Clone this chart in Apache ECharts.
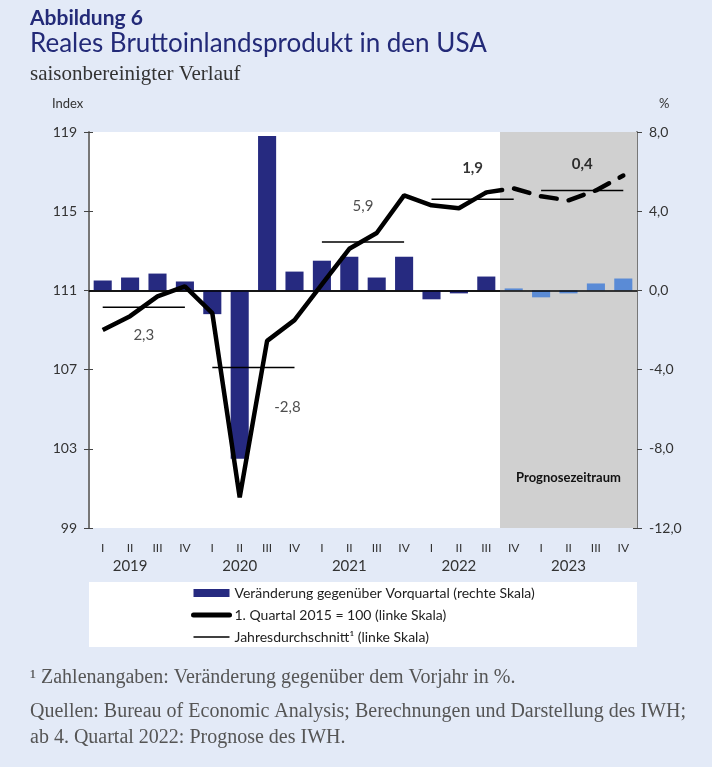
<!DOCTYPE html>
<html>
<head>
<meta charset="utf-8">
<script src="https://cdn.jsdelivr.net/npm/echarts@6/dist/echarts.min.js"></script>
<style>
    html, body { margin: 0; padding: 0; background: #e3eaf7; }
    #chart { width: 712px; height: 767px; }
</style>
</head>
<body>
<div id="chart"></div>
<script>
(function () {
    // Daten
    var years = ['2019', '2020', '2021', '2022', '2023'];
    var quarters = ['I', 'II', 'III', 'IV'];
    // 1. Quartal 2015 = 100
    var gdpIndex = [109.0, 109.7, 110.7, 111.2, 109.85, 100.55, 108.45, 109.5, 111.3, 113.1,
        113.9, 115.8, 115.3, 115.15, 115.95, 116.15, 115.75, 115.55, 116.05, 116.8];
    // Veränderung gegenüber Vorquartal in %
    var qoqChange = [0.5, 0.65, 0.85, 0.45, -1.2, -8.5, 7.8, 0.95, 1.5, 1.7,
        0.65, 1.7, -0.45, -0.15, 0.7, 0.1, -0.35, -0.15, 0.35, 0.6];
    var annualAvg = [110.15, 107.1, 113.45, 115.6, 116.05];
    var annualGrowth = [2.3, -2.8, 5.9, 1.9, 0.4];
    var forecastFrom = 15; // ab 4. Quartal 2022

    var barName = 'Veränderung gegenüber Vorquartal (rechte Skala)';
    var lineName = '1. Quartal 2015 = 100 (linke Skala)';
    var avgName = 'Jahresdurchschnitt¹ (linke Skala)';

    var navy = '#262a80';
    var lightBlue = '#5a8bd6';
    var sans = 'Lato';
    var serif = 'Liberation Serif';

    var categories = [];
    years.forEach(function (y) {
        quarters.forEach(function (q) {
            categories.push(y + ' ' + q);
        });
    });

    function deComma(v, digits) {
        return v.toFixed(digits).replace('.', ',');
    }

    // Position der Jahreswerte relativ zur Durchschnittslinie
    var growthLabelOffset = [[0, 28], [34, 40], [0, -36], [0, -31], [0, -26]];

    var chart = echarts.init(document.getElementById('chart'));

    var avgSeries = annualAvg.map(function (avg, k) {
        return {
            name: avgName,
            type: 'line',
            symbol: 'none',
            silent: true,
            z: 3,
            itemStyle: { color: '#000' },
            lineStyle: { color: '#000', width: 1.5 },
            data: categories.map(function (c, i) {
                return Math.floor(i / 4) === k ? avg : '-';
            })
        };
    });

    var noSymbol = { color: 'transparent', borderColor: 'transparent', borderWidth: 0 };

    var option = {
        backgroundColor: '#e3eaf7',
        animation: false,

        title: [
            {
                text: 'Abbildung 6', left: 30, top: 8, padding: 0,
                textStyle: { fontFamily: sans, fontSize: 21, fontWeight: 'bold', color: '#232a78' }
            },
            {
                text: 'Reales Bruttoinlandsprodukt in den USA', left: 30, top: 31, padding: 0,
                textStyle: { fontFamily: sans, fontSize: 26, fontWeight: 'normal', color: '#232a78' }
            },
            {
                text: 'saisonbereinigter Verlauf', left: 30, top: 64, padding: 0,
                textStyle: { fontFamily: serif, fontSize: 21, fontWeight: 'normal', color: '#333' }
            },
            {
                text: 'Index', left: 52, top: 97, padding: 0,
                textStyle: { fontFamily: sans, fontSize: 13, fontWeight: 'normal', color: '#333' }
            },
            {
                text: '%', left: 659, top: 97, padding: 0,
                textStyle: { fontFamily: sans, fontSize: 13, fontWeight: 'normal', color: '#333' }
            },
            {
                text: '¹ Zahlenangaben: Veränderung gegenüber dem Vorjahr in %.', left: 30, top: 668, padding: 0,
                textStyle: { fontFamily: serif, fontSize: 20, fontWeight: 'normal', color: '#555' }
            },
            {
                text: 'Quellen: Bureau of Economic Analysis; Berechnungen und Darstellung des IWH;\nab 4. Quartal 2022: Prognose des IWH.',
                left: 30, top: 699, padding: 0,
                textStyle: { fontFamily: serif, fontSize: 20, lineHeight: 26, fontWeight: 'normal', color: '#555' }
            }
        ],

        graphic: [
            {
                type: 'rect',
                left: 89,
                top: 582,
                z: -1,
                shape: { width: 548, height: 65 },
                style: { fill: '#fff' }
            }
        ],

        legend: {
            orient: 'vertical',
            left: 186,
            top: 581,
            itemWidth: 36,
            itemHeight: 8,
            itemGap: 8,
            selectedMode: false,
            textStyle: { fontFamily: sans, fontSize: 14, color: '#222' },
            data: [
                { name: barName, icon: 'rect', itemStyle: { color: navy } },
                { name: lineName, itemStyle: noSymbol, lineStyle: { width: 5, color: '#000', cap: 'round' } },
                { name: avgName, itemStyle: noSymbol, lineStyle: { width: 1.5, color: '#000' } }
            ]
        },

        grid: {
            left: 89,
            right: 75,
            top: 132,
            bottom: 239,
            show: true,
            backgroundColor: '#fff',
            borderWidth: 0
        },

        xAxis: [
            {
                type: 'category',
                data: categories,
                axisLine: { lineStyle: { color: '#222', width: 1.5 } },
                axisTick: {
                    length: 5,
                    lineStyle: { color: '#222' },
                    interval: function (index) { return index % 4 === 0; }
                },
                axisLabel: {
                    interval: 0,
                    margin: 11,
                    formatter: function (v) {
                        var p = v.split(' ');
                        return p[1] === 'II' ? '{q|II}\n{y|' + p[0] + '}' : '{q|' + p[1] + '}';
                    },
                    rich: {
                        q: { fontFamily: sans, fontSize: 12, color: '#333', lineHeight: 18 },
                        y: { fontFamily: sans, fontSize: 15, color: '#333', lineHeight: 18 }
                    }
                }
            },
            {
                type: 'category',
                data: categories,
                position: 'bottom',
                axisLine: { show: false },
                axisTick: {
                    inside: true,
                    length: 4,
                    lineStyle: { color: '#222' },
                    interval: function (index) { return index % 4 === 0; }
                },
                axisLabel: { show: false }
            },
            {
                type: 'value',
                min: 0,
                max: categories.length,
                show: false
            }
        ],

        yAxis: [
            {
                type: 'value',
                position: 'left',
                min: 99,
                max: 119,
                interval: 4,
                axisLine: { show: true, lineStyle: { color: '#777', width: 2 } },
                axisTick: { show: true, length: 5, lineStyle: { color: '#444' } },
                axisLabel: { margin: 12, fontFamily: sans, fontSize: 14, color: '#333' },
                splitLine: { show: false }
            },
            {
                type: 'value',
                position: 'right',
                min: -12,
                max: 8,
                interval: 4,
                axisLine: { show: true, lineStyle: { color: '#777', width: 2 } },
                axisTick: { show: true, length: 5, lineStyle: { color: '#444' } },
                axisLabel: {
                    margin: 12, fontFamily: sans, fontSize: 14, color: '#333',
                    formatter: function (v) { return deComma(v, 1); }
                },
                splitLine: { show: false }
            },
            {
                type: 'value',
                position: 'left',
                min: 99,
                max: 119,
                interval: 4,
                axisLine: { show: false },
                axisTick: { show: true, inside: true, length: 4, lineStyle: { color: '#444' } },
                axisLabel: { show: false },
                splitLine: { show: false }
            },
            {
                type: 'value',
                position: 'right',
                min: -12,
                max: 8,
                interval: 4,
                axisLine: { show: false },
                axisTick: { show: true, inside: true, length: 4, lineStyle: { color: '#444' } },
                axisLabel: { show: false },
                splitLine: { show: false }
            }
        ],

        series: [
            {
                // Prognosezeitraum
                name: 'Prognosezeitraum',
                type: 'line',
                xAxisIndex: 2,
                yAxisIndex: 0,
                data: [],
                z: 1,
                markArea: {
                    silent: true,
                    itemStyle: { color: '#d0d0d0' },
                    label: {
                        show: true,
                        position: 'insideBottom',
                        distance: 44,
                        fontFamily: sans,
                        fontSize: 13,
                        fontWeight: 'bold',
                        color: '#111'
                    },
                    data: [[
                        { name: 'Prognosezeitraum', xAxis: forecastFrom },
                        { xAxis: categories.length }
                    ]]
                }
            },
            {
                name: barName,
                type: 'bar',
                yAxisIndex: 1,
                barWidth: '66%',
                z: 2,
                data: qoqChange.map(function (v, i) {
                    return { value: v, itemStyle: { color: i >= forecastFrom ? lightBlue : navy } };
                }),
                markLine: {
                    silent: true,
                    symbol: 'none',
                    label: { show: false },
                    lineStyle: { color: '#000', width: 1.5, type: 'solid' },
                    data: [{ yAxis: 0 }]
                }
            }
        ].concat(avgSeries).concat([
            {
                name: lineName,
                type: 'line',
                symbol: 'none',
                z: 5,
                itemStyle: { color: '#000' },
                lineStyle: { color: '#000', width: 4.5 },
                data: gdpIndex.map(function (v, i) { return i < forecastFrom ? v : '-'; })
            },
            {
                name: lineName,
                type: 'line',
                symbol: 'none',
                z: 5,
                itemStyle: { color: '#000' },
                lineStyle: { color: '#000', width: 4.5, type: [16, 12], cap: 'round' },
                data: gdpIndex.map(function (v, i) { return i >= forecastFrom - 1 ? v : '-'; })
            },
            {
                // Jahreswerte: Veränderung gegenüber Vorjahr
                name: 'Jahreswerte',
                type: 'scatter',
                xAxisIndex: 2,
                yAxisIndex: 0,
                symbolSize: 1,
                silent: true,
                z: 6,
                itemStyle: { color: 'transparent' },
                label: {
                    show: true,
                    position: 'inside',
                    fontFamily: sans,
                    fontSize: 15,
                    color: '#222',
                    formatter: function (p) { return deComma(annualGrowth[p.dataIndex], 1); }
                },
                data: annualAvg.map(function (avg, k) {
                    var isForecast = (k + 1) * 4 > forecastFrom;
                    return {
                        value: [k * 4 + 2, avg],
                        label: {
                            offset: growthLabelOffset[k],
                            fontWeight: isForecast ? 'bold' : 'normal',
                            color: isForecast ? '#000' : '#222'
                        }
                    };
                })
            }
        ])
    };

    chart.setOption(option);
})();
</script>
</body>
</html>
